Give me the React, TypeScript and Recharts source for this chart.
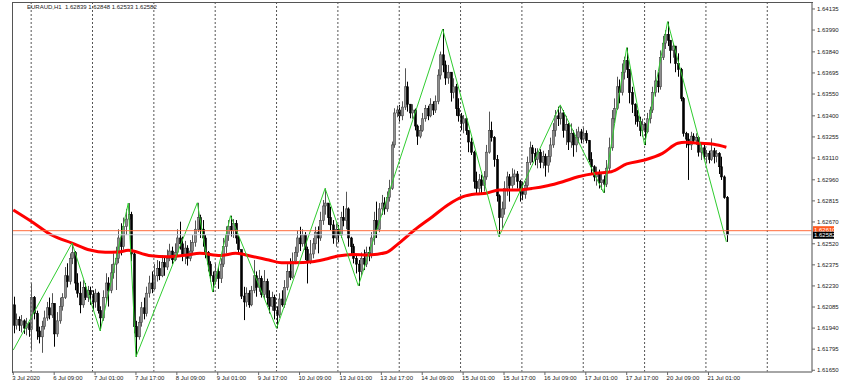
import React from "react";
import { ComposedChart, Bar, Line, XAxis, YAxis, ReferenceLine } from "recharts";

// EURAUD H1, prices kept as points above 1.60000 (2839 = 1.62839)
// one entry per hourly bar, 3 Jul 17:00 .. 21 Jul 08:00; open = previous close
const firstOpen = 2100;

const closes = [
  1960, 2000, 1960, 1990, 1940, 1970, 1930, 2150, 2040, 1920,
  1880, 1950, 2010, 2080, 2030, 2110, 1900, 1990, 2090, 2150,
  2300, 2260, 2420, 2460, 2250, 2180, 2100, 2220, 2150, 2200,
  2170, 2120, 2180, 2060, 2010, 2150, 2250, 2200, 2320, 2380,
  2420, 2560, 2500, 2640, 2690, 2720, 2450, 1950, 1880, 1980,
  2080, 2040, 2180, 2250, 2210, 2300, 2350, 2300, 2390, 2360,
  2420, 2470, 2410, 2460, 2560, 2520, 2440, 2490, 2420, 2470,
  2530, 2620, 2700, 2620, 2560, 2460, 2380, 2300, 2260, 2330,
  2280, 2380, 2500, 2580, 2640, 2610, 2660, 2560, 2480, 2160,
  2120, 2180, 2100, 2200, 2300, 2220, 2280, 2170, 2260, 2150,
  2090, 2150, 2060, 2030, 2140, 2100, 2220, 2330, 2290, 2400,
  2460, 2560, 2520, 2580, 2480, 2400, 2450, 2520, 2600, 2560,
  2680, 2780, 2800, 2700, 2650, 2560, 2620, 2580, 2700, 2680,
  2760, 2560, 2500, 2420, 2380, 2330, 2420, 2380, 2460, 2440,
  2560, 2680, 2620, 2760, 2800, 2760, 2840, 2900, 3200, 3420,
  3440, 3400, 3460, 3600, 3480, 3420, 3440, 3330, 3260, 3300,
  3380, 3450, 3400, 3480, 3440, 3500, 3680, 3820, 3750, 3660,
  3700, 3560, 3600, 3450, 3400, 3350, 3380, 3300, 3220, 3150,
  2950, 2900, 2960, 2920, 2980, 3150, 3300, 3250, 3100, 2850,
  2700, 2760, 2900, 2980, 2920, 2980, 3000, 2950, 2880, 2860,
  2920, 3080, 3180, 3140, 3100, 3150, 3080, 3120, 3060, 3120,
  3200, 3300, 3400, 3380, 3420, 3300, 3340, 3220, 3280, 3200,
  3250, 3290, 3240, 3280, 3230, 3100, 3050, 2980, 3000, 2940,
  2960, 2930, 3040, 3180, 3380, 3450, 3600, 3560, 3700, 3780,
  3720, 3560, 3480, 3400, 3360, 3300, 3340, 3290, 3380, 3440,
  3560, 3640, 3600, 3800, 3900, 3960, 3920, 3850, 3880, 3760,
  3720, 3520, 3280, 3240, 3200, 3260, 3230, 3250, 3150, 3180,
  3120, 3140, 3100, 3160, 3120, 3140, 3050, 2980, 2839, 2582,
];

const highs = [
  2156, 2040, 2020, 2030, 2000, 2010, 1980, 2248, 2160, 2060,
  1950, 1990, 2060, 2120, 2150, 2180, 2110, 2050, 2150, 2180,
  2360, 2386, 2454, 2525, 2470, 2317, 2260, 2271, 2250, 2230,
  2225, 2200, 2210, 2190, 2090, 2200, 2317, 2290, 2380, 2454,
  2500, 2620, 2661, 2700, 2760, 2800, 2740, 2477, 1990, 2020,
  2120, 2150, 2225, 2300, 2330, 2380, 2408, 2400, 2440, 2430,
  2480, 2520, 2500, 2523, 2620, 2672, 2569, 2540, 2510, 2546,
  2580, 2680, 2802, 2720, 2683, 2580, 2470, 2400, 2330, 2385,
  2360, 2420, 2560, 2640, 2683, 2713, 2690, 2683, 2580, 2480,
  2224, 2220, 2200, 2230, 2408, 2330, 2340, 2300, 2339, 2280,
  2200, 2190, 2170, 2090, 2180, 2200, 2270, 2380, 2420, 2460,
  2500, 2610, 2637, 2620, 2600, 2500, 2546, 2560, 2637, 2640,
  2740, 2821, 2901, 2800, 2775, 2683, 2660, 2650, 2740, 2780,
  2878, 2770, 2568, 2520, 2440, 2408, 2460, 2480, 2500, 2500,
  2600, 2740, 2810, 2800, 2856, 2840, 2880, 2960, 3223, 3452,
  3470, 3475, 3500, 3727, 3635, 3480, 3480, 3450, 3340, 3337,
  3420, 3475, 3470, 3521, 3500, 3540, 3720, 3842, 3997, 3780,
  3750, 3700, 3658, 3620, 3521, 3420, 3406, 3390, 3300, 3250,
  3160, 3016, 3000, 2995, 3020, 3200, 3429, 3360, 3260, 3131,
  2860, 2810, 2950, 3016, 3000, 3039, 3030, 3020, 2960, 2948,
  2950, 3120, 3223, 3200, 3177, 3177, 3170, 3160, 3140, 3165,
  3250, 3350, 3440, 3463, 3475, 3440, 3400, 3350, 3348, 3300,
  3310, 3325, 3310, 3320, 3300, 3234, 3150, 3060, 3050, 3030,
  3000, 2990, 3096, 3250, 3440, 3520, 3669, 3650, 3760, 3807,
  3869, 3720, 3600, 3486, 3440, 3394, 3380, 3350, 3420, 3463,
  3600, 3715, 3700, 3850, 3950, 3990, 4048, 3920, 3899, 3880,
  3830, 3730, 3530, 3290, 3280, 3290, 3280, 3280, 3260, 3211,
  3200, 3165, 3160, 3245, 3180, 3165, 3150, 3119, 2990, 2848,
];

const lows = [
  1904, 1930, 1920, 1910, 1900, 1890, 1880, 1790, 2000, 1860,
  1835, 1770, 1930, 1990, 2000, 2010, 1812, 1880, 1970, 2060,
  2140, 2220, 2240, 2380, 2200, 2150, 2042, 2080, 2133, 2120,
  2100, 2060, 2080, 2040, 1920, 1990, 2120, 2088, 2180, 2280,
  2202, 2386, 2440, 2480, 2580, 2620, 2400, 1904, 1743, 1860,
  1950, 2000, 2020, 2150, 2180, 2200, 2260, 2270, 2290, 2300,
  2340, 2400, 2380, 2400, 2440, 2480, 2400, 2380, 2370, 2400,
  2440, 2500, 2600, 2560, 2500, 2420, 2330, 2260, 2188, 2240,
  2210, 2250, 2360, 2454, 2540, 2570, 2560, 2520, 2450, 2140,
  1995, 2087, 2080, 2090, 2180, 2156, 2190, 2150, 2140, 2100,
  2041, 2060, 2000, 1938, 2010, 2087, 2080, 2200, 2270, 2280,
  2380, 2430, 2470, 2500, 2408, 2247, 2380, 2420, 2480, 2454,
  2540, 2650, 2720, 2650, 2614, 2520, 2500, 2530, 2560, 2640,
  2620, 2500, 2440, 2385, 2316, 2231, 2300, 2339, 2360, 2400,
  2420, 2512, 2560, 2600, 2718, 2720, 2740, 2810, 2890, 3180,
  3390, 3360, 3370, 3440, 3429, 3383, 3380, 3300, 3200, 3246,
  3290, 3360, 3370, 3390, 3406, 3420, 3480, 3650, 3700, 3613,
  3620, 3498, 3520, 3400, 3360, 3300, 3280, 3269, 3150, 3131,
  2900, 2856, 2870, 2856, 2880, 2960, 3140, 3223, 3050, 2810,
  2569, 2626, 2720, 2850, 2810, 2900, 2925, 2900, 2810, 2820,
  2830, 2900, 3062, 3080, 3060, 3039, 3040, 3039, 2982, 3010,
  3080, 3180, 3257, 3330, 3340, 3250, 3200, 3165, 3180, 3119,
  3150, 3211, 3211, 3220, 3211, 3080, 3004, 2950, 2920, 2900,
  2890, 2871, 2910, 3020, 3160, 3350, 3440, 3486, 3540, 3650,
  3660, 3486, 3420, 3340, 3325, 3260, 3257, 3199, 3280, 3348,
  3420, 3532, 3560, 3580, 3784, 3860, 3880, 3761, 3800, 3700,
  3669, 3500, 3257, 3180, 2959, 3165, 3211, 3200, 3120, 3096,
  3100, 3073, 3073, 3090, 3073, 3080, 3000, 2959, 2830, 2533,
];

// ZigZag turning points (bar index, price)
const zzBars = [0, 23, 34, 45, 48, 72, 78, 85, 103, 122, 135, 168, 190, 214, 231, 240, 247, 256, 279];
const zzValues = [1789, 2525, 1920, 2800, 1743, 2802, 2188, 2713, 1938, 2901, 2231, 3997, 2569, 3475, 2871, 3869, 3199, 4048, 2533];

// moving average read at sample bars
const maBars = [0, 8, 15, 23, 30, 36, 41, 45, 53, 61, 68, 73, 81, 87, 94, 100, 105, 110, 117, 122, 127, 133, 139, 146, 150, 157, 164, 170, 176, 181, 185, 190, 196, 203, 209, 215, 221, 228, 234, 240, 247, 254, 260, 263, 269, 274, 279];
const maValues = [2752, 2663, 2580, 2525, 2477, 2461, 2463, 2475, 2440, 2431, 2443, 2454, 2439, 2454, 2431, 2408, 2390, 2390, 2396, 2413, 2436, 2447, 2443, 2460, 2511, 2615, 2706, 2787, 2844, 2862, 2867, 2890, 2890, 2901, 2919, 2947, 2981, 3005, 3016, 3069, 3096, 3142, 3211, 3218, 3211, 3204, 3184];

const priceTicks = [4135, 3990, 3840, 3695, 3550, 3400, 3255, 3110, 2960, 2815, 2670, 2520, 2375, 2230, 2085, 1940, 1795, 1650];

const timeTickBars = [0, 16, 32, 48, 64, 80, 96, 112, 128, 144, 160, 176, 192, 208, 224, 240, 256, 272];
const timeTickLabels = [
  "3 Jul 2020", "6 Jul 09:00", "7 Jul 01:00", "7 Jul 17:00", "8 Jul 09:00", "9 Jul 01:00",
  "9 Jul 17:00", "10 Jul 09:00", "13 Jul 01:00", "13 Jul 17:00", "14 Jul 09:00", "15 Jul 01:00",
  "15 Jul 17:00", "16 Jul 09:00", "17 Jul 01:00", "17 Jul 17:00", "20 Jul 09:00", "21 Jul 01:00",
];

// midnight bars (dotted separators)
const dayBars = [7, 31, 55, 79, 103, 127, 151, 175, 199, 223, 247, 271, 295];

const totalSlots = 313; // bars incl. empty right shift
const bidPrice = 2582;
const askPrice = 2610;
const title = "EURAUD,H1  1.62839 1.62848 1.62533 1.62582";

const FONT = "'Liberation Sans', Arial, sans-serif";
const fmt = (v: number) => (1.6 + v / 100000).toFixed(5);

const data = Array.from({ length: totalSlots }, (_, i) => {
  const row: any = { i };
  if (i < closes.length) {
    row.open = i === 0 ? firstOpen : closes[i - 1];
    row.close = closes[i];
    row.high = highs[i];
    row.low = lows[i];
    row.range = [lows[i], highs[i]];
  }
  const z = zzBars.indexOf(i);
  if (z >= 0) row.zz = zzValues[z];
  const m = maBars.indexOf(i);
  if (m >= 0) row.ma = maValues[m];
  return row;
});

function Candle(props: any) {
  const { x, y, width, height, payload } = props;
  if (!payload || payload.high == null || x == null) return null;
  const { open, close, high, low } = payload;
  const top = Math.min(y, y + height);
  const span = Math.abs(height) || 1;
  const toY = (v: number) => top + ((high - v) / (high - low || 1)) * span;
  const cx = Math.round(x + width / 2) + 0.5;
  const up = close >= open;
  const yo = toY(open);
  const yc = toY(close);
  const bodyTop = Math.min(yo, yc);
  const bodyH = Math.max(1, Math.abs(yc - yo));
  return (
    <g>
      <line x1={cx} x2={cx} y1={top} y2={top + span} stroke={up ? "#555" : "#000"} strokeWidth={1} />
      <rect
        x={cx - 1}
        y={bodyTop}
        width={2}
        height={bodyH}
        fill={up ? "#8e8e8e" : "#000"}
        stroke={up ? "#444" : "#000"}
        strokeWidth={0.6}
      />
    </g>
  );
}

function TimeTick({ x, y, payload }: any) {
  const idx = timeTickBars.indexOf(payload.value);
  return (
    <text x={x - 1} y={y + 4} fontSize={6} fill="#222" fontFamily={FONT} textAnchor="start">
      {timeTickLabels[idx]}
    </text>
  );
}

function PriceTick({ x, y, payload }: any) {
  return (
    <text x={x} y={y + 2} fontSize={6} fill="#222" fontFamily={FONT} textAnchor="start">
      {fmt(payload.value)}
    </text>
  );
}

function PriceBox({ viewBox, bg, value, dy }: any) {
  if (!viewBox) return null;
  const x = viewBox.x + viewBox.width + 1;
  return (
    <g>
      <rect x={x} y={viewBox.y - 3.5 + dy} width={21} height={7} fill={bg} />
      <text x={x + 1} y={viewBox.y + 2 + dy} fontSize={6} fill="#fff" fontFamily={FONT}>
        {fmt(value)}
      </text>
    </g>
  );
}

export default function App() {
  return (
    <div style={{ position: "absolute", left: 0, top: 0, width: 848, height: 392, background: "#fff" }}>
      <ComposedChart width={848} height={392} data={data} margin={{ top: 2, left: 12, right: 0, bottom: 0 }} barCategoryGap={0}>
        <XAxis
          dataKey="i"
          ticks={timeTickBars}
          interval={0}
          height={20}
          tick={<TimeTick />}
          tickSize={3}
          tickMargin={1}
          axisLine={{ stroke: "#888", strokeWidth: 1.5 }}
          tickLine={{ stroke: "#666" }}
        />
        <YAxis
          orientation="right"
          type="number"
          domain={[1638, 4183]}
          allowDataOverflow
          ticks={priceTicks}
          interval={0}
          width={36}
          tick={<PriceTick />}
          tickSize={3}
          tickMargin={2}
          axisLine={{ stroke: "#888", strokeWidth: 1.5 }}
          tickLine={{ stroke: "#666" }}
        />
        {dayBars.map((b) => (
          <ReferenceLine key={b} x={b} stroke="#555" strokeDasharray="2 2" strokeWidth={1} />
        ))}
        <Bar dataKey="range" shape={<Candle />} isAnimationActive={false} />
        <Line dataKey="ma" type="monotone" connectNulls dot={false} stroke="#ff0000" strokeWidth={3} isAnimationActive={false} />
        <Line dataKey="zz" type="linear" connectNulls dot={false} stroke="#2fcc2f" strokeWidth={1} isAnimationActive={false} />
        <ReferenceLine
          y={askPrice}
          stroke="#ff6a3a"
          strokeWidth={1}
          label={(p: any) => <PriceBox viewBox={p.viewBox} bg="#ff5a1f" value={askPrice} dy={-1} />}
        />
        <ReferenceLine
          y={bidPrice}
          stroke="#c6ccd6"
          strokeWidth={1}
          label={(p: any) => <PriceBox viewBox={p.viewBox} bg="#000" value={bidPrice} dy={0.5} />}
        />
      </ComposedChart>
      <div
        style={{
          position: "absolute",
          left: 12,
          top: 2,
          width: 800,
          height: 370,
          borderLeft: "1px solid #555",
          borderTop: "1px solid #555",
          pointerEvents: "none",
        }}
      />
      <div
        style={{
          position: "absolute",
          left: 27,
          top: 4,
          fontSize: 6,
          lineHeight: "7px",
          fontFamily: FONT,
          color: "#222",
          whiteSpace: "pre",
        }}
      >
        {title}
      </div>
    </div>
  );
}
